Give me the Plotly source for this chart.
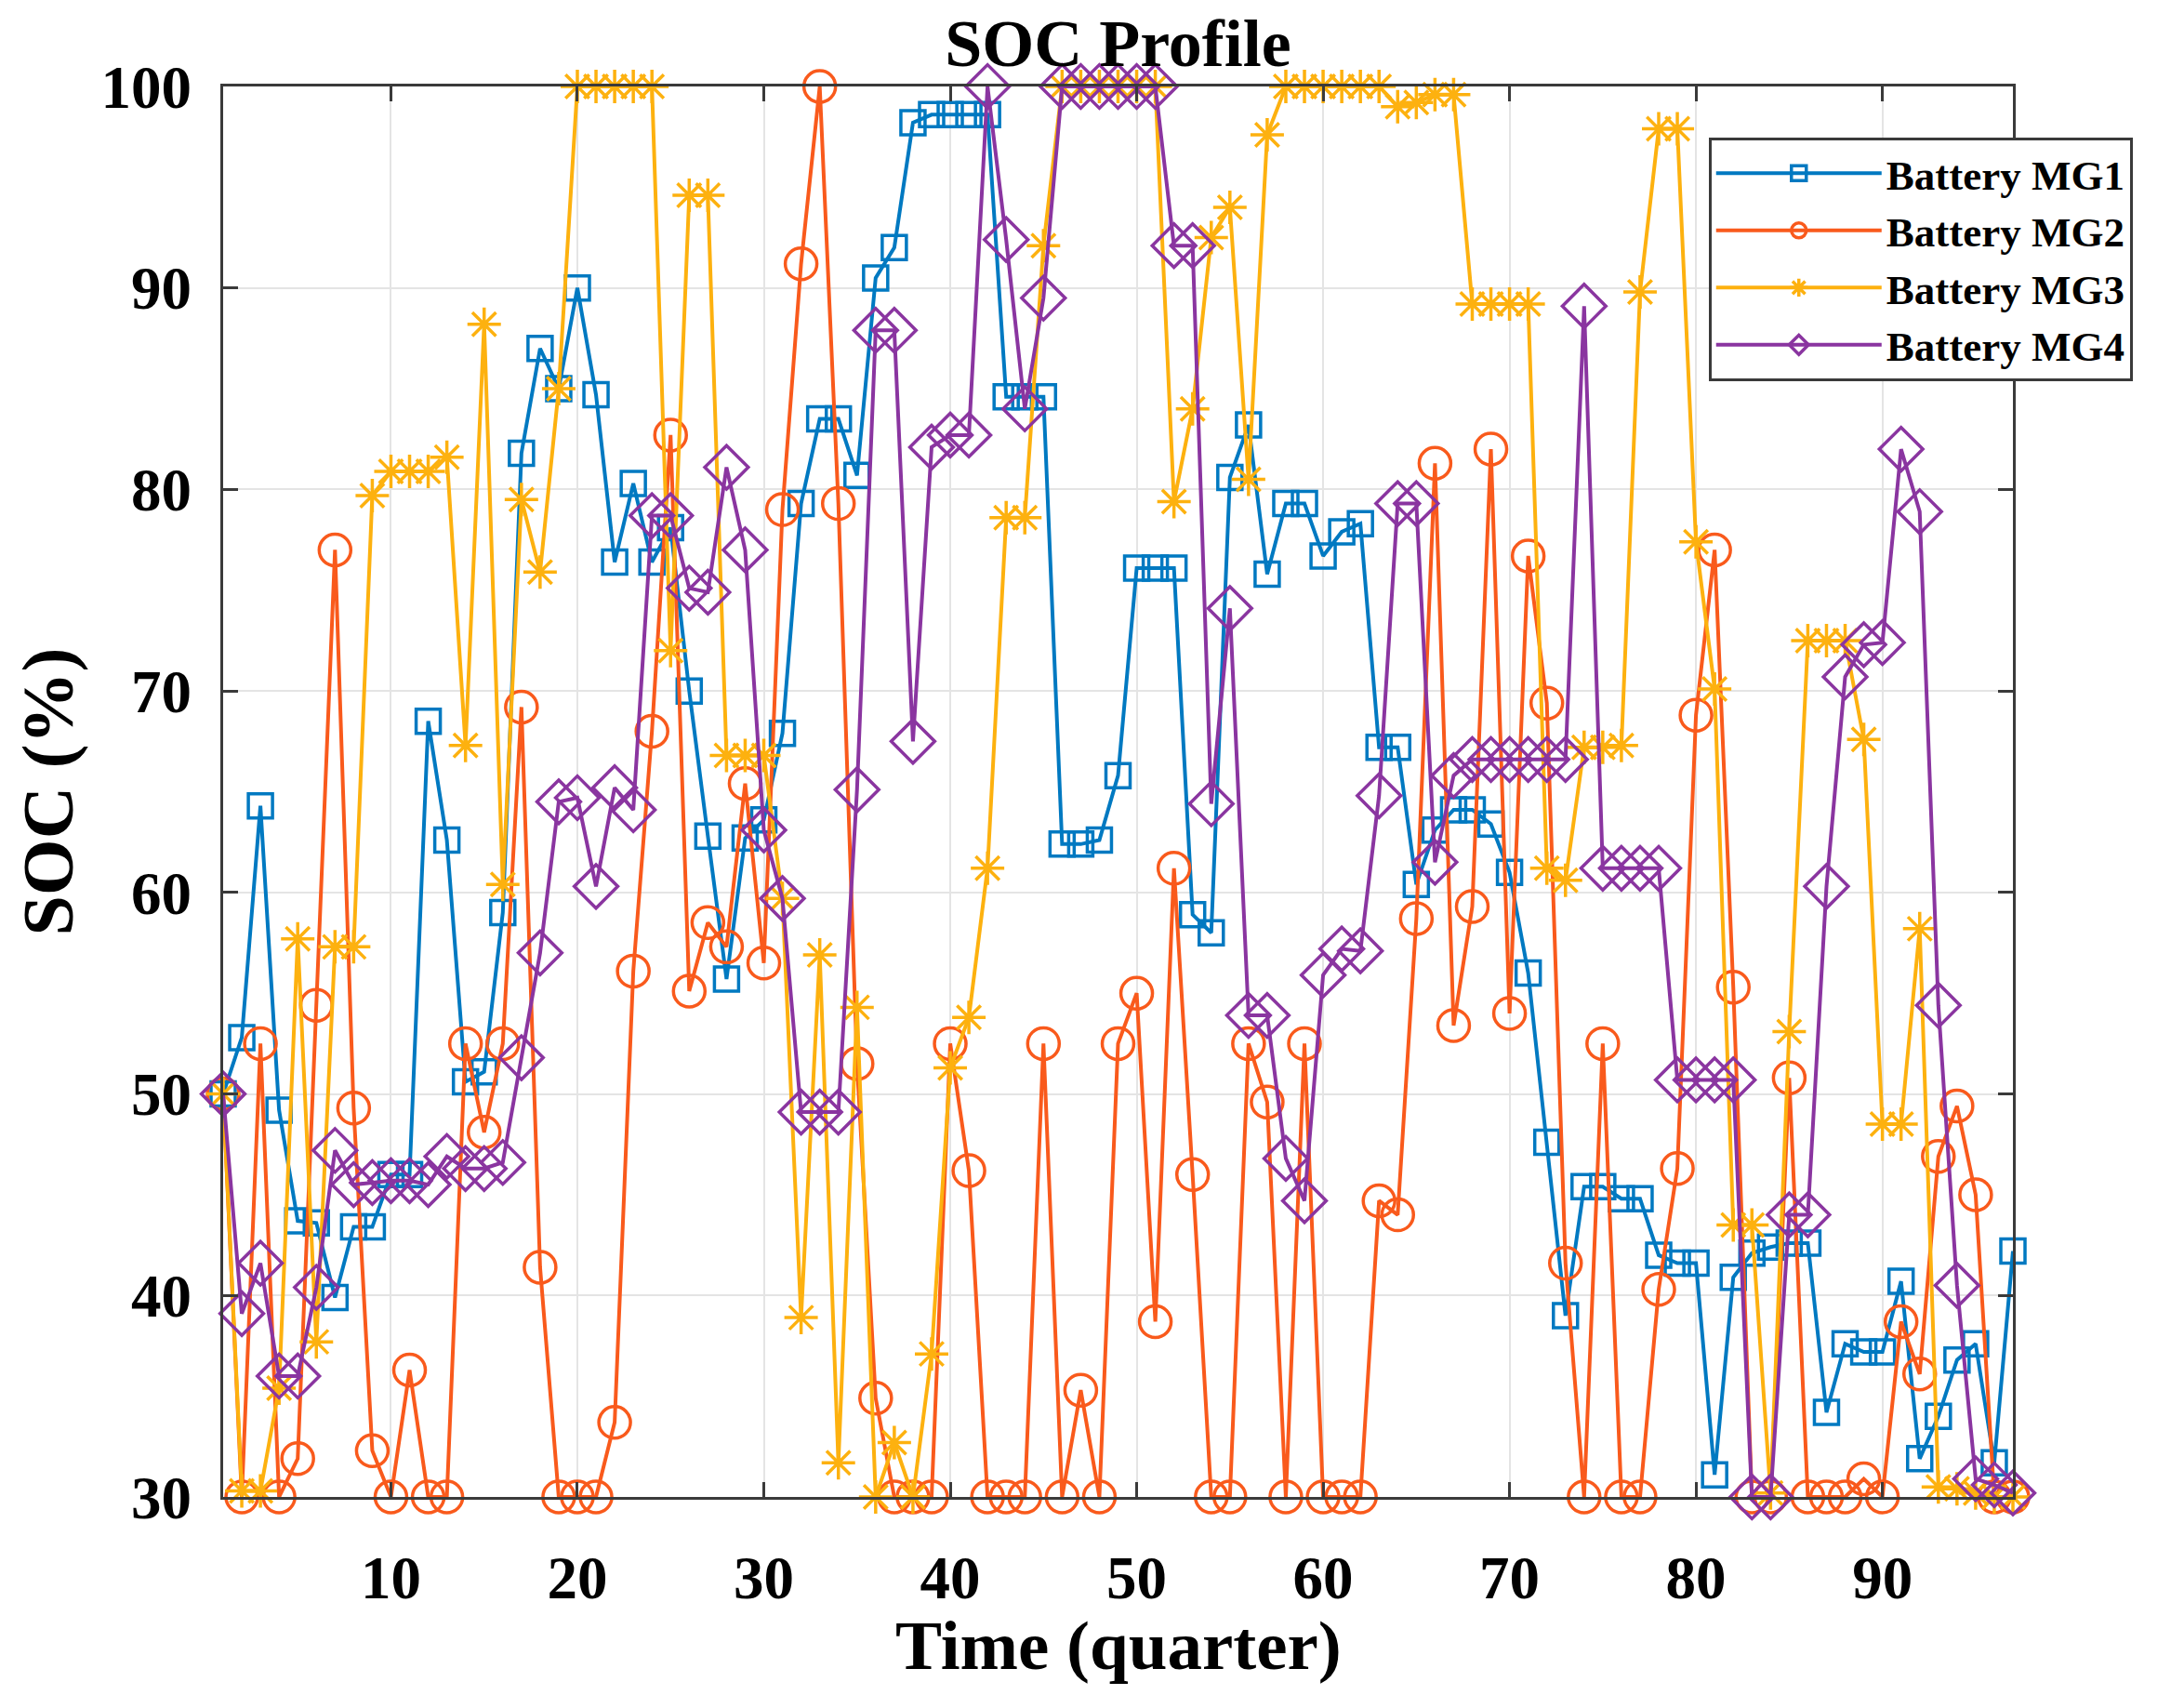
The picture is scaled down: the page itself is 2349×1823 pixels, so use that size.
import plotly.graph_objects as go

# Time axis (quarter-hour index)
time_q = list(range(1, 98))

soc_mg1 = [50.0, 52.8, 64.3, 49.2, 43.7, 43.6, 39.9, 43.4, 43.4, 46.0,
           46.0, 68.5, 62.6, 50.6, 51.1, 59.0, 81.8, 87.0, 85.0, 90.0,
           84.7, 76.4, 80.3, 76.4, 78.1, 70.0, 62.8, 55.7, 62.7, 63.6,
           67.9, 79.3, 83.5, 83.5, 80.7, 90.5, 92.0, 98.2, 98.6, 98.6,
           98.6, 98.6, 84.6, 84.6, 84.6, 62.4, 62.4, 62.6, 65.8, 76.1,
           76.1, 76.1, 58.9, 58.0, 80.6, 83.2, 75.8, 79.3, 79.3, 76.7,
           77.9, 78.3, 67.2, 67.2, 60.4, 63.1, 64.1, 64.1, 63.4, 61.0,
           56.0, 47.6, 39.0, 45.4, 45.4, 44.8, 44.8, 42.0, 41.6, 41.6,
           31.1, 40.9, 42.1, 42.4, 42.6, 42.6, 34.2, 37.6, 37.2, 37.2,
           40.7, 31.9, 34.0, 36.8, 37.6, 31.7, 42.2]

soc_mg2 = [50.0, 30.0, 52.5, 30.0, 31.9, 54.4, 77.0, 49.3, 32.3, 30.0,
           36.3, 30.0, 30.0, 52.5, 48.1, 52.5, 69.2, 41.4, 30.0, 30.0,
           30.0, 33.7, 56.1, 68.0, 82.7, 55.1, 58.5, 57.3, 65.4, 56.5,
           79.0, 91.2, 100.0, 79.3, 51.5, 34.9, 30.0, 30.0, 30.0, 52.5,
           46.2, 30.0, 30.0, 30.0, 52.5, 30.0, 35.3, 30.0, 52.5, 55.0,
           38.7, 61.2, 46.0, 30.0, 30.0, 52.5, 49.6, 30.0, 52.5, 30.0,
           30.0, 30.0, 44.7, 44.0, 58.7, 81.3, 53.4, 59.3, 82.0, 54.0,
           76.7, 69.4, 41.6, 30.0, 52.5, 30.0, 30.0, 40.3, 46.3, 68.8,
           77.0, 55.3, 30.0, 30.0, 50.8, 30.0, 30.0, 30.0, 30.9, 30.0,
           38.7, 36.1, 46.9, 49.4, 45.0, 30.0, 30.0]

soc_mg3 = [50.0, 30.3, 30.3, 35.4, 57.7, 37.7, 57.3, 57.3, 79.7, 80.9,
           80.9, 80.9, 81.6, 67.3, 88.2, 60.4, 79.5, 75.9, 85.0, 100.0,
           100.0, 100.0, 100.0, 100.0, 72.0, 94.6, 94.6, 66.8, 66.8, 66.8,
           59.7, 38.9, 56.9, 31.7, 54.3, 30.0, 32.7, 30.0, 37.1, 51.3,
           53.8, 61.2, 78.6, 78.6, 92.1, 100.0, 100.0, 100.0, 100.0, 100.0,
           100.0, 79.4, 84.0, 92.5, 94.0, 80.5, 97.6, 100.0, 100.0, 100.0,
           100.0, 100.0, 100.0, 99.0, 99.2, 99.6, 99.6, 89.2, 89.2, 89.2,
           89.2, 61.2, 60.6, 67.2, 67.2, 67.3, 89.8, 97.9, 97.9, 77.4,
           70.1, 43.5, 43.5, 30.2, 53.1, 72.5, 72.5, 72.5, 67.6, 48.5,
           48.5, 58.2, 30.5, 30.4, 30.2, 30.0, 30.0]

soc_mg4 = [50.0, 39.1, 41.6, 36.0, 36.0, 40.4, 47.2, 45.5, 45.6, 45.7,
           45.7, 45.5, 46.9, 46.3, 46.3, 46.6, 51.8, 57.0, 64.5, 64.7,
           60.3, 65.2, 64.1, 78.7, 78.7, 75.1, 74.9, 81.1, 77.0, 63.1,
           59.7, 49.1, 49.1, 49.1, 65.1, 87.9, 87.9, 67.5, 82.1, 82.7,
           82.7, 100.0, 92.4, 84.0, 89.5, 100.0, 100.0, 100.0, 100.0, 100.0,
           100.0, 92.1, 92.1, 64.4, 74.1, 53.9, 53.9, 46.8, 44.7, 55.9,
           57.2, 57.1, 64.8, 79.3, 79.3, 61.5, 65.8, 66.6, 66.6, 66.6,
           66.6, 66.6, 66.6, 89.1, 61.2, 61.2, 61.2, 61.2, 50.7, 50.7,
           50.7, 50.7, 30.0, 30.0, 44.0, 44.0, 60.3, 70.7, 72.3, 72.4,
           82.0, 78.9, 54.4, 40.5, 30.9, 30.6, 30.2]

x_ticks = [10, 20, 30, 40, 50, 60, 70, 80, 90]
y_ticks = [30, 40, 50, 60, 70, 80, 90, 100]

series = [
    ("Battery MG1", soc_mg1, "#0079C1", "square-open", 26),
    ("Battery MG2", soc_mg2, "#F95A1C", "circle-open", 34),
    ("Battery MG3", soc_mg3, "#FDB10F", "asterisk-open", 30),
    ("Battery MG4", soc_mg4, "#8A35A0", "diamond-open", 36),
]

serif = "Liberation Serif"

fig = go.Figure()
for name, vals, color, symbol, size in series:
    fig.add_trace(go.Scatter(
        x=time_q, y=vals, name=name, mode="lines+markers",
        line=dict(color=color, width=4),
        marker=dict(symbol=symbol, size=size, color=color,
                    line=dict(color=color, width=3.5)),
        cliponaxis=False,
    ))

axis_common = dict(
    showline=True, linecolor="#3a3a3a", linewidth=3, mirror="allticks",
    ticks="inside", ticklen=16, tickwidth=3, tickcolor="#3a3a3a",
    showgrid=True, gridcolor="#e4e4e4", gridwidth=2,
    zeroline=False, automargin=False,
    tickfont=dict(family=serif, size=65, color="black", weight="bold"),
)

fig.update_xaxes(range=[1, 97], tickvals=x_ticks, ticklabelstandoff=28,
                 **axis_common)
fig.update_yaxes(range=[30, 100], tickvals=y_ticks, ticklabelstandoff=18,
                 title=dict(text="SOC (%)", standoff=14,
                            font=dict(family=serif, size=78, color="black",
                                      weight="bold")),
                 **axis_common)

# x-axis title as an annotation so it can sit close under the tick labels
fig.add_annotation(text="Time (quarter)", xref="paper", yref="paper",
                   x=0.5, y=-0.105, xanchor="center", yanchor="middle",
                   showarrow=False,
                   font=dict(family=serif, size=75, color="black",
                             weight="bold"))

# page body adds an 8 px offset, so the figure is 8 px smaller on each axis
fig.update_layout(
    width=2341, height=1815,
    template="none",
    paper_bgcolor="white", plot_bgcolor="white",
    margin=dict(l=232, r=184, t=85, b=213),
    font=dict(family=serif, color="black", weight="bold"),
    title=dict(text="SOC Profile", x=0.5, xref="paper", xanchor="center",
               y=1 - 38 / 1815, yref="container", yanchor="middle",
               font=dict(family=serif, size=72, color="black", weight="bold")),
    legend=dict(x=0.83, y=0.964, xanchor="left", yanchor="top",
                bgcolor="white", bordercolor="#3a3a3a", borderwidth=3,
                font=dict(family=serif, size=45, color="black", weight="bold"),
                itemwidth=178, tracegroupgap=0),
    showlegend=True,
)

fig.write_html("out.html")
